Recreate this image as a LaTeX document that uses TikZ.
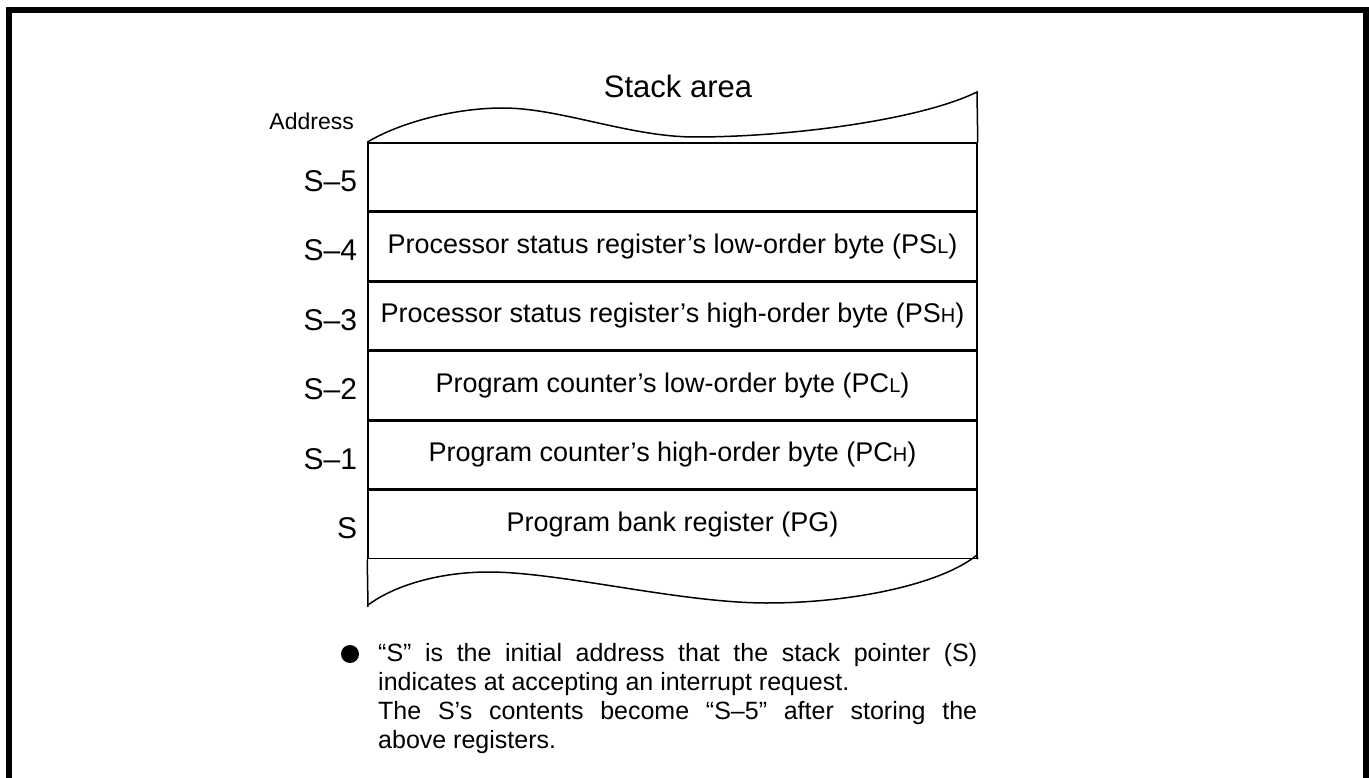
\documentclass[tikz,border=0pt]{standalone}
\usepackage{fontspec}
\setmainfont{Liberation Sans}
\usetikzlibrary{positioning}

\newcommand{\lowc}[1]{{\fontsize{20}{20}\selectfont #1}}

\begin{document}
\begin{tikzpicture}[
  x=1pt, y=-1pt,
  cell/.style={draw, line width=1.5pt, minimum width=609pt, minimum height=68pt, inner sep=0pt, font=\fontsize{27}{30}\selectfont},
  addr/.style={inner sep=0pt, yshift=-4pt, font=\fontsize{30}{34}\selectfont},
  edge/.style={line width=1.5pt}
]
\useasboundingbox (0,0) rectangle (1369,778);
\draw[line width=6pt, line join=miter] (8.5,790) -- (8.5,10.5) -- (1365.5,10.5) -- (1365.5,790);

\node[inner sep=0pt, font=\fontsize{31}{36}\selectfont] (ttl) at (678,86) {Stack area};
\node[inner sep=0pt, anchor=east, font=\fontsize{23}{26}\selectfont] (hd) at (354,121) {Address};

% stack cells
\node[cell] (r5) at (672.5,177) {};
\node[cell, below=0pt of r5] (r4) {Processor status register’s low-order byte (PS\lowc{L})};
\node[cell, below=0pt of r4] (r3) {Processor status register’s high-order byte (PS\lowc{H})};
\node[cell, below=0pt of r3] (r2) {Program counter’s low-order byte (PC\lowc{L})};
\node[cell, below=0pt of r2] (r1) {Program counter’s high-order byte (PC\lowc{H})};
\node[cell, below=0pt of r1] (r0) {Program bank register (PG)};

\node[addr, left=10pt of r5] (a5) {S–5};
\node[addr, left=10pt of r4] (a4) {S–4};
\node[addr, left=10pt of r3] (a3) {S–3};
\node[addr, left=10pt of r2] (a2) {S–2};
\node[addr, left=10pt of r1] (a1) {S–1};
\node[addr, left=10pt of r0] (a0) {S};

% torn edges
\draw[edge] (r5.north west) .. controls (395,125) and (450,108) .. (503,108)
  .. controls (560,108) and (630,137) .. (695,137)
  .. controls (790,137) and (920,120) .. (977,92) -- (r5.north east);
\draw[edge] (r0.south west) -- (368,607);
\draw[edge] (368,605) .. controls (395,585) and (440,572) .. (489,572)
  .. controls (560,572) and (680,603) .. (767,603)
  .. controls (850,603) and (940,585) .. (977,555) -- (r0.south east);

% note
\node[circle, fill, inner sep=0pt, minimum size=18pt] (bul) at (350,654) {};
\node[inner sep=0pt, anchor=north west, text width=599pt, align=justify,
  font=\fontsize{25}{29}\selectfont] (note) at (378,643)
  {“S” is the initial address that the stack pointer (S)\linebreak
   indicates at accepting an interrupt request.\newline
   The S’s contents become “S–5” after storing the\linebreak
   above registers.};
\end{tikzpicture}
\end{document}
